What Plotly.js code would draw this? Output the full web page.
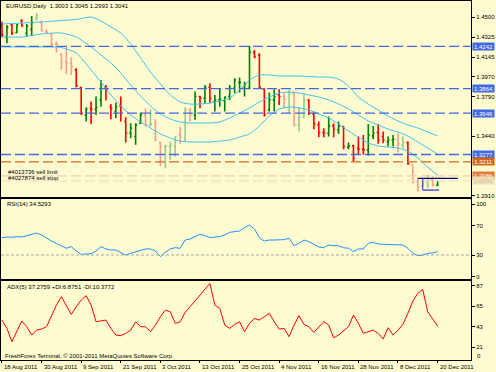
<!DOCTYPE html>
<html><head><meta charset="utf-8">
<script src="https://cdn.plot.ly/plotly-3.0.1.min.js"></script>
<style>html,body{margin:0;padding:0;background:#FFFBD0;}#chart{width:496px;height:372px;}</style>
</head><body><div id="chart"></div>
<script>
const dates = ["2011-08-18","2011-08-19","2011-08-22","2011-08-23","2011-08-24","2011-08-25","2011-08-26","2011-08-29","2011-08-30","2011-08-31",
"2011-09-01","2011-09-02","2011-09-05","2011-09-06","2011-09-07","2011-09-08","2011-09-09","2011-09-12","2011-09-13","2011-09-14","2011-09-15","2011-09-16","2011-09-19","2011-09-20","2011-09-21","2011-09-22","2011-09-23","2011-09-26","2011-09-27","2011-09-28","2011-09-29","2011-09-30",
"2011-10-03","2011-10-04","2011-10-05","2011-10-06","2011-10-07","2011-10-10","2011-10-11","2011-10-12","2011-10-13","2011-10-14","2011-10-17","2011-10-18","2011-10-19","2011-10-20","2011-10-21","2011-10-24","2011-10-25","2011-10-26","2011-10-27","2011-10-28","2011-10-31",
"2011-11-01","2011-11-02","2011-11-03","2011-11-04","2011-11-07","2011-11-08","2011-11-09","2011-11-10","2011-11-11","2011-11-14","2011-11-15","2011-11-16","2011-11-17","2011-11-18","2011-11-21","2011-11-22","2011-11-23","2011-11-24","2011-11-25","2011-11-28","2011-11-29","2011-11-30",
"2011-12-01","2011-12-02","2011-12-05","2011-12-06","2011-12-07","2011-12-08","2011-12-09","2011-12-12","2011-12-13","2011-12-14","2011-12-15","2011-12-16","2011-12-19","2011-12-20"];

const open  = [1.4432,1.4322,1.4432,1.4364,1.4471,1.4358,1.4393,1.4491,1.4453,1.4370,
1.4352,1.4263,1.4165,1.4102,1.4091,1.4031,1.3877,1.3630,1.3690,1.3681,
1.3764,1.3877,1.3704,1.3660,1.3710,1.3571,1.3467,1.3437,1.3556,1.3630,
1.3541,1.3556,1.3384,1.3348,1.3348,1.3354,1.3452,1.3413,1.3675,1.3630,
1.3794,1.3779,1.3877,1.3749,1.3764,1.3758,1.3794,1.3868,1.3918,1.3868,
1.3868,1.4188,1.4165,1.3859,1.3675,1.3764,1.3808,1.3794,1.3770,1.3817,
1.3541,1.3609,1.3764,1.3639,1.3541,1.3473,1.3467,1.3532,1.3497,1.3526,
1.3342,1.3354,1.3333,1.3324,1.3318,1.3443,1.3473,1.3437,1.3393,1.3407,
1.3413,1.3363,1.3384,1.3185,1.3036,1.2997,1.3036,1.3051,1.3003];
const high  = [1.4462,1.4432,1.4447,1.4441,1.4483,1.4441,1.4512,1.4536,1.4471,1.4393,
1.4358,1.4284,1.4180,1.4239,1.4144,1.4046,1.3880,1.3699,1.3749,1.3794,
1.3942,1.3897,1.3728,1.3740,1.3794,1.3609,1.3556,1.3556,1.3651,1.3690,
1.3681,1.3592,1.3393,1.3363,1.3393,1.3443,1.3526,1.3699,1.3690,1.3838,
1.3800,1.3897,1.3912,1.3808,1.3868,1.3794,1.3897,1.3957,1.3963,1.3927,
1.4247,1.4209,1.4180,1.3868,1.3829,1.3859,1.3859,1.3823,1.3853,1.3838,
1.3704,1.3808,1.3770,1.3660,1.3571,1.3511,1.3615,1.3556,1.3571,1.3532,
1.3384,1.3363,1.3437,1.3452,1.3550,1.3532,1.3550,1.3482,1.3437,1.3452,
1.3467,1.3437,1.3393,1.3185,1.3066,1.3051,1.3096,1.3081,1.3045];
const low   = [1.4322,1.4269,1.4343,1.4358,1.4417,1.4328,1.4334,1.4471,1.4373,1.4352,
1.4245,1.4186,1.4031,1.3996,1.3987,1.3877,1.3630,1.3571,1.3550,1.3630,
1.3704,1.3758,1.3592,1.3600,1.3571,1.3384,1.3422,1.3363,1.3550,1.3526,
1.3526,1.3393,1.3170,1.3155,1.3229,1.3259,1.3372,1.3393,1.3571,1.3586,
1.3690,1.3734,1.3734,1.3660,1.3704,1.3660,1.3764,1.3823,1.3829,1.3794,
1.3860,1.4135,1.3868,1.3615,1.3660,1.3660,1.3719,1.3690,1.3645,1.3526,
1.3482,1.3600,1.3630,1.3502,1.3431,1.3431,1.3437,1.3431,1.3461,1.3324,
1.3324,1.3214,1.3274,1.3274,1.3265,1.3413,1.3372,1.3378,1.3348,1.3348,
1.3295,1.3333,1.3185,1.3021,1.2947,1.2977,1.2977,1.2992,1.2993];
const close = [1.4343,1.4411,1.4358,1.4432,1.4423,1.4423,1.4453,1.4521,1.4382,1.4364,
1.4263,1.4260,1.4102,1.4091,1.4061,1.3889,1.3645,1.3681,1.3681,1.3699,
1.3868,1.3859,1.3690,1.3704,1.3645,1.3467,1.3511,1.3541,1.3630,1.3541,
1.3550,1.3413,1.3348,1.3354,1.3363,1.3437,1.3431,1.3675,1.3630,1.3794,
1.3779,1.3877,1.3779,1.3764,1.3770,1.3790,1.3868,1.3942,1.3921,1.3903,
1.4188,1.4150,1.3877,1.3630,1.3764,1.3794,1.3794,1.3770,1.3817,1.3541,
1.3609,1.3764,1.3645,1.3550,1.3473,1.3467,1.3532,1.3502,1.3532,1.3348,
1.3354,1.3244,1.3324,1.3318,1.3452,1.3467,1.3407,1.3407,1.3407,1.3413,
1.3372,1.3384,1.3194,1.3027,1.2992,1.3036,1.3051,1.3006,1.3041];
const faded = [0,0,0,0,0,0,0,1,1,1, 1,1,1,1,1,0,0,0,0,0, 0,0,0,0,0,0,0,0,0,1,
1,1,1,1,1,1,1,1,1,0, 0,0,0,0,0,0,0,0,0,0, 0,0,0,0,0,0,0,1,1,1,
1,1,0,0,0,0,0,0,0,0, 0,0,0,0,0,0,0,0,0,0, 1,1,0,1,1,1,1,1,0];

const bbBars   = [0,4,8,12,15,18,20,22,24,26,28,30,32,34,36,38,40,42,44,46,48,50,52,54,56,58,60,62,64,66,68,70,72,74,76,78,80,82,84,86,88];
const bbUpper  = [1.4441,1.4450,1.4459,1.4472,1.4481,1.4503,1.4468,1.4414,1.4361,1.4263,1.4138,1.4013,1.3906,1.3808,1.3745,1.3727,1.3727,1.3736,1.3754,1.3781,1.3852,1.3941,1.3986,1.3986,1.3977,1.3977,1.3977,1.3973,1.3968,1.3968,1.3950,1.3888,1.3790,1.3727,1.3674,1.3620,1.3576,1.3540,1.3513,1.3478,1.3442];
const bbMiddle = [1.4325,1.4325,1.4352,1.4361,1.4325,1.4236,1.4164,1.4093,1.4004,1.3897,1.3799,1.3710,1.3638,1.3594,1.3567,1.3558,1.3558,1.3558,1.3567,1.3603,1.3648,1.3692,1.3745,1.3790,1.3825,1.3834,1.3825,1.3808,1.3790,1.3763,1.3727,1.3683,1.3630,1.3576,1.3540,1.3504,1.3478,1.3442,1.3389,1.3335,1.3281];
const bbLower  = [1.4236,1.4236,1.4236,1.4231,1.4182,1.4031,1.3924,1.3808,1.3710,1.3630,1.3567,1.3513,1.3460,1.3424,1.3397,1.3389,1.3389,1.3389,1.3397,1.3406,1.3433,1.3460,1.3531,1.3620,1.3683,1.3701,1.3692,1.3674,1.3638,1.3603,1.3549,1.3487,1.3433,1.3380,1.3353,1.3344,1.3335,1.3308,1.3246,1.3165,1.3094];

const rsi = [53.8,54.7,54.3,55.2,54.7,56.6,59.3,60.2,57.5,52.9, 49.2,46.0,42.8,39.2,41.5,35.5,30.9,30.9,31.9,35.5,
41.5,38.3,36.9,36.9,33.7,30.0,32.3,34.6,36.9,38.3, 38.3,35.5,27.7,33.7,38.3,40.1,39.2,50.6,52.0,55.2,
58.4,56.6,53.8,54.7,55.2,57.5,61.1,62.1,63.0,67.5, 71.2,65.7,53.8,49.2,50.6,50.6,50.6,51.1,52.9,42.8,
46.0,50.6,48.3,44.7,41.0,40.1,43.7,42.8,42.8,40.1, 39.2,34.6,38.3,38.3,46.0,47.4,45.1,44.7,44.7,44.7,
44.7,43.7,39.2,32.3,29.1,30.0,32.3,32.8,34.5];
const adx = [50.1,41.2,27.0,37.7,49.1,43.0,34.1,39.4,40.5,43.0, 55.5,66.2,75.1,66.2,56.2,64.4,71.5,76.2,66.2,48.3,
49.1,50.1,41.2,34.1,33.4,35.9,39.4,48.3,43.0,43.0, 37.7,44.8,53.7,60.8,59.0,46.6,48.3,58.3,64.4,70.5,
76.9,83.3,89.3,66.2,62.6,44.8,41.2,45.5,48.3,37.7, 46.6,51.9,50.1,53.7,57.3,48.3,40.5,41.2,32.3,44.8,
54.8,45.5,43.0,36.9,43.0,48.3,44.8,31.2,34.1,38.4, 43.0,55.5,46.6,35.9,37.7,39.4,35.9,29.8,41.9,34.1,
39.4,45.5,57.3,70.5,78.7,82.9,59.0,51.9,43.7];

const dateTickBars = [0,8,16,24,32,40,48,56,64,72,80,88];
const dateTickText = ["18 Aug 2011","30 Aug 2011","9 Sep 2011","21 Sep 2011","3 Oct 2011","13 Oct 2011","25 Oct 2011","4 Nov 2011","16 Nov 2011","28 Nov 2011","8 Dec 2011","20 Dec 2011"];
const priceTicks = [1.4500,1.4325,1.4145,1.3970,1.3790,1.3440,1.2910];
const rsiTicks = [100,70,30,0];
const adxTicks = [87,65,43,21];
const blueLevels = [1.4242,1.3864,1.3646,1.3277];
const orangeLevels = [1.3211,1.3086];
const faintLevels = [1.3086,1.3043];
const bidPrice = 1.3041;

const FONT = 'Liberation Sans, Arial, sans-serif';
const BG = '#FFFBD0';
const idx = dates.map((d,i)=>i);
const pick = (arr, f) => arr.filter((v,i)=>faded[i]===f);

const traces = [];
traces.push({type:'ohlc', x:pick(idx,0), open:pick(open,0), high:pick(high,0), low:pick(low,0), close:pick(close,0),
  xaxis:'x', yaxis:'y', tickwidth:0.3,
  increasing:{line:{color:'#008000', width:1.6}}, decreasing:{line:{color:'#FF0000', width:1.6}}, hoverinfo:'skip'});
traces.push({type:'ohlc', x:pick(idx,1), open:pick(open,1), high:pick(high,1), low:pick(low,1), close:pick(close,1),
  xaxis:'x', yaxis:'y', tickwidth:0.3,
  increasing:{line:{color:'#9CCB8C', width:1.6}}, decreasing:{line:{color:'#F3A08E', width:1.6}}, hoverinfo:'skip'});
[bbUpper,bbMiddle,bbLower].forEach(s=>traces.push({type:'scatter', mode:'lines', x:bbBars, y:s, xaxis:'x', yaxis:'y',
  line:{color:'#3EC1F0', width:1, shape:'spline', smoothing:0.6}, hoverinfo:'skip'}));
traces.push({type:'scatter', mode:'lines', x:idx, y:rsi, xaxis:'x2', yaxis:'y2', line:{color:'#1E90FF', width:1}, hoverinfo:'skip'});
traces.push({type:'scatter', mode:'lines', x:idx, y:adx, xaxis:'x3', yaxis:'y3', line:{color:'#FF0000', width:1}, hoverinfo:'skip'});

const xr = [-0.2, 94.75];
const baseX = {range:xr, showgrid:false, zeroline:false, showline:true, mirror:true, linecolor:'#000', linewidth:1, fixedrange:true};
const baseY = {side:'right', showgrid:false, zeroline:false, showline:true, mirror:true, linecolor:'#000', linewidth:1,
  ticks:'outside', ticklen:3, tickcolor:'#000', tickfont:{family:FONT, size:6, color:'#000'}, fixedrange:true};

const shapes = [];
blueLevels.forEach(v=>shapes.push({type:'line', xref:'paper', x0:0, x1:1, yref:'y', y0:v, y1:v, line:{color:'#4169E1', width:1.3, dash:'10px,4px'}}));
shapes.push({type:'line', xref:'paper', x0:0, x1:1, yref:'y', y0:orangeLevels[0], y1:orangeLevels[0], line:{color:'#D2691E', width:1.3, dash:'10px,4px'}});
shapes.push({type:'line', xref:'paper', x0:0, x1:1, yref:'y', y0:faintLevels[0], y1:faintLevels[0], line:{color:'#F2D2A8', width:1.3, dash:'10px,4px'}});
shapes.push({type:'line', xref:'paper', x0:0, x1:1, yref:'y', y0:faintLevels[1], y1:faintLevels[1], line:{color:'#F6E2C4', width:1.3, dash:'10px,4px'}});
shapes.push({type:'line', xref:'paper', x0:0, x1:1, yref:'y2', y0:30, y1:30, line:{color:'#A8A8A8', width:1, dash:'3px,2px'}});
// order box near last bars
shapes.push({type:'line', xref:'x', yref:'y', x0:84.0, x1:92.1, y0:1.3065, y1:1.3065, line:{color:'#000080', width:1.3}});
shapes.push({type:'line', xref:'x', yref:'y', x0:85.0, x1:88.3, y0:1.2960, y1:1.2960, line:{color:'#3A3AD0', width:1.3}});
shapes.push({type:'line', xref:'x', yref:'y', x0:85.0, x1:85.0, y0:1.2960, y1:1.3065, line:{color:'#3A3AD0', width:1}});

const ann = [];
const txt = (x,y,t,extra)=>Object.assign({xref:'paper', yref:'paper', x:x, y:y, text:t, showarrow:false, xanchor:'left', yanchor:'middle',
  font:{family:FONT, size:6, color:'#000'}}, extra||{});
ann.push(txt(0.0066, 0.986, 'EURUSD,Daily  1.3003 1.3045 1.2993 1.3041'));
ann.push(txt(0.009, 0.4337, 'RSI(14) 34.5293'));
ann.push(txt(0.009, 0.2042, 'ADX(5) 37.2759 +DI:6.8751 -DI:10.3772'));
ann.push(txt(0.005, 0.0111, 'FreshForex Terminal, © 2001-2011 MetaQuotes Software Corp.'));
ann.push(txt(0.011, 0.5245, '#4013736 sell limit'));
ann.push(txt(0.011, 0.5078, '#4027874 sell stop'));
ann.push(txt(1, 0.012, '0', {xshift:4}));
dateTickBars.forEach((b,i)=>ann.push({xref:'x3', x:b, yref:'paper', y:0, yanchor:'top', yshift:-2, xanchor:'left', xshift:0,
  text:dateTickText[i], showarrow:false, font:{family:FONT, size:6, color:'#000'}}));
const lvlLabel = (v, bg, fc) => ({xref:'paper', x:1, xanchor:'left', xshift:1, yref:'y', y:v, yanchor:'middle', text:v.toFixed(4),
  showarrow:false, bgcolor:bg, borderpad:0, width:21, height:7, align:'center', font:{family:FONT, size:6, color:fc}});
blueLevels.forEach(v=>ann.push(lvlLabel(v, '#4169E1', '#FFFFFF')));
ann.push(lvlLabel(orangeLevels[0], '#D2691E', '#FFFFFF'));
ann.push(lvlLabel(orangeLevels[1], '#E07A3C', '#FFFFFF'));
ann.push(lvlLabel(bidPrice, '#EEDDB8', '#D8C8A0'));

const layout = {
  width:496, height:372, margin:{l:1, r:25, t:1, b:12},
  paper_bgcolor:BG, plot_bgcolor:BG, showlegend:false,
  xaxis: Object.assign({}, baseX, {anchor:'y', showticklabels:false, ticks:'', rangeslider:{visible:false}}),
  xaxis2: Object.assign({}, baseX, {anchor:'y2', matches:'x', showticklabels:false, ticks:''}),
  xaxis3: Object.assign({}, baseX, {anchor:'y3', matches:'x', tickmode:'array', tickvals:dateTickBars, showticklabels:false,
     ticks:'outside', ticklen:2, tickcolor:'#000'}),
  yaxis: Object.assign({}, baseY, {domain:[0.454,1], range:[1.2898,1.4646], tickmode:'array', tickvals:priceTicks, ticktext:priceTicks.map(v=>v.toFixed(4))}),
  yaxis2: Object.assign({}, baseY, {domain:[0.2256,0.4485], range:[-2.94,106.9], tickmode:'array', tickvals:rsiTicks}),
  yaxis3: Object.assign({}, baseY, {domain:[0,0.22], range:[7.4,91.9], tickmode:'array', tickvals:adxTicks}),
  shapes:shapes, annotations:ann
};
Plotly.newPlot('chart', traces, layout, {staticPlot:true, displayModeBar:false});
</script></body></html>
